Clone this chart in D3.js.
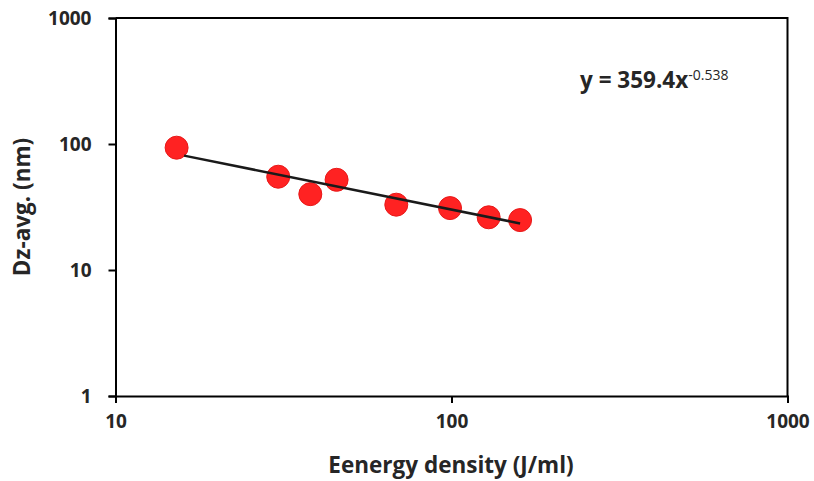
<!DOCTYPE html>
<html>
<head>
<meta charset="utf-8">
<script src="https://cdn.jsdelivr.net/npm/d3@7"></script>
<style>
  body { margin: 0; background: #fff; }
  svg { display: block; }
  text { font-family: "Open Sans", sans-serif; fill: #262626; }
</style>
</head>
<body>
<svg id="chart" width="814" height="481"></svg>
<script>
const width = 814, height = 481;

// data
const energy = [15.2, 30.5, 38, 45.5, 68.5, 99, 129, 160];
const dzAvg = [93.5, 55, 40, 52, 33, 31, 26.2, 24.9];
const xTicks = [10, 100, 1000];
const yTicks = [1, 10, 100, 1000];
// power trendline y = a * x^b
const fitA = 359.4, fitB = -0.538;
const fitRange = [16, 160];

const plot = { left: 115.5, right: 787.5, top: 18, bottom: 396 };

const svg = d3.select("#chart");

const x = d3.scaleLog().domain([10, 1000]).range([plot.left, plot.right]);
const y = d3.scaleLog().domain([1, 1000]).range([plot.bottom, plot.top]);

//frame on top and right
svg.append("path")
  .attr("d", `M${plot.left},${plot.top}H${plot.right}V${plot.bottom}`)
  .attr("fill", "none").attr("stroke", "#000").attr("stroke-width", 2);

const xAxis = svg.append("g").attr("transform", `translate(0,${plot.bottom})`)
  .call(d3.axisBottom(x).tickValues(xTicks).tickFormat(d3.format("d")).tickSize(7).tickPadding(12));
const yAxis = svg.append("g").attr("transform", `translate(${plot.left},0)`)
  .call(d3.axisLeft(y).tickValues(yTicks).tickFormat(d3.format("d")).tickSize(7).tickPadding(17));

[xAxis, yAxis].forEach(g => {
  g.select(".domain").attr("stroke", "#000").attr("stroke-width", 2);
  g.selectAll(".tick line").attr("stroke", "#000").attr("stroke-width", 2);
  g.selectAll(".tick text").attr("font-size", 19).attr("font-weight", "bold").attr("fill", "#262626");
});

// points
svg.append("g").selectAll("circle")
  .data(energy.map((e, i) => ({ e, d: dzAvg[i] })))
  .join("circle")
  .attr("cx", d => x(d.e))
  .attr("cy", d => y(d.d))
  .attr("r", 11.5)
  .attr("fill", "#ff2222")
  .attr("stroke", "#e81818")
  .attr("stroke-width", 1);

// trendline (straight on log-log)
const fitPts = fitRange.map(v => ({ e: v, d: fitA * Math.pow(v, fitB) }));
svg.append("path")
  .datum(fitPts)
  .attr("d", d3.line().x(d => x(d.e)).y(d => y(d.d)))
  .attr("stroke", "#1a1a1a").attr("stroke-width", 2.5).attr("fill", "none");

// equation
const eq = svg.append("text").attr("x", 580).attr("y", 88)
  .attr("font-size", 22.5).attr("font-weight", "bold");
eq.append("tspan").text("y = 359.4x");
eq.append("tspan").attr("dy", -8).attr("font-size", 14).attr("font-weight", "normal").text("-0.538");

// axis titles
svg.append("text").attr("x", 451).attr("y", 473)
  .attr("text-anchor", "middle").attr("font-size", 22.5).attr("font-weight", "bold")
  .text("Eenergy density (J/ml)");

svg.append("text")
  .attr("transform", `translate(30,207) rotate(-90)`)
  .attr("text-anchor", "middle").attr("font-size", 22.5).attr("font-weight", "bold")
  .text("Dz-avg. (nm)");
</script>
</body>
</html>
